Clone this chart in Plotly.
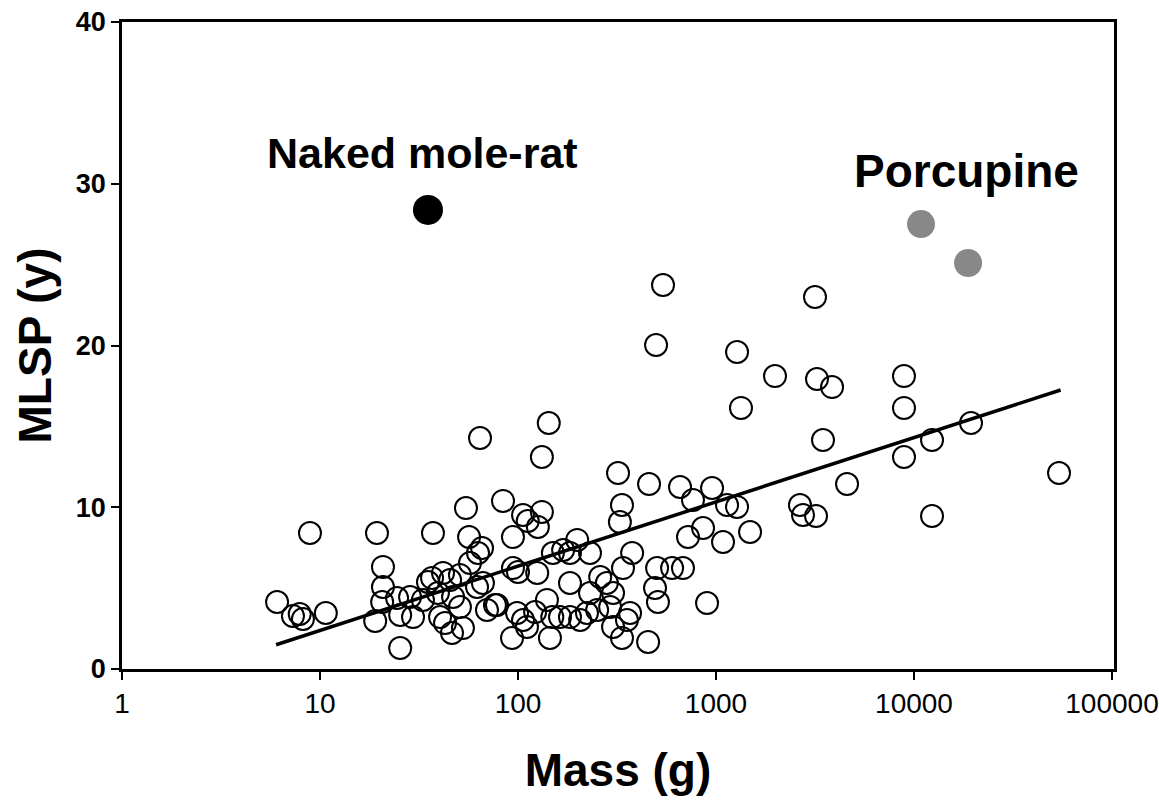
import plotly.graph_objects as go

# Open circles: rodent species (body mass in g, maximum lifespan in years)
mass = [6.07, 7.3, 7.9, 8.2, 10.7, 8.9, 19.4, 20.8, 20.8, 20.6,
        19.0, 24.5, 25.4, 28.5, 29.5, 33.1, 35.1, 36.8, 39.4, 40.4,
        42.8, 45.4, 47.0, 50.9, 52.7, 57.2, 62.8, 62.1, 78.3, 25.4,
        50.9, 41.8, 46.4, 37.2, 56.6, 65.8, 64.3, 54.6, 84.0, 106,
        132, 112, 126, 94.3, 143, 132, 150, 169, 183, 231,
        94.3, 100, 125, 66.5, 183, 260, 281, 76.5, 69.7, 98.9,
        106, 122, 140, 149, 163, 183, 206, 231, 251, 292,
        302, 93.3, 145, 111, 223, 199, 320, 335, 327, 459,
        658, 955, 765, 1137, 722, 860, 1085, 377, 339, 504,
        600, 681, 492, 509, 901, 454, 335, 355, 302, 368,
        3162, 1277, 1986, 3236, 3855, 8900, 1337, 8900, 3470, 19400,
        12330, 8900, 4590, 54000, 12330, 2655, 2750, 3200, 1277, 1486,
        540, 498]
mlsp = [4.14, 3.28, 3.40, 3.09, 3.46, 8.41, 8.41, 6.31, 5.07, 4.14,
        2.97, 4.39, 3.34, 4.45, 3.21, 4.27, 5.38, 5.63, 4.70, 3.21,
        2.84, 5.50, 4.45, 3.83, 2.53, 6.55, 7.17, 5.07, 3.96, 1.30,
        5.81, 5.94, 2.23, 8.41, 8.16, 7.48, 14.28, 9.95, 10.39, 9.52,
        9.71, 9.15, 8.78, 8.16, 15.21, 13.11, 7.17, 7.36, 7.17, 7.17,
        6.24, 6.00, 5.94, 5.32, 5.32, 5.69, 5.32, 3.96, 3.65, 3.46,
        3.03, 3.52, 4.27, 3.21, 3.21, 3.21, 3.03, 4.70, 3.65, 3.83,
        2.60, 1.92, 1.92, 2.60, 3.46, 7.98, 12.12, 10.14, 9.09, 11.44,
        11.25, 11.19, 10.45, 10.14, 8.16, 8.72, 7.85, 7.17, 6.24, 6.24,
        6.24, 6.24, 5.01, 4.14, 4.08, 1.67, 1.92, 3.03, 4.70, 3.46,
        23.0, 19.6, 18.11, 17.93, 17.43, 18.11, 16.14, 16.14, 14.16, 15.21,
        14.16, 13.11, 11.44, 12.12, 9.46, 10.14, 9.52, 9.46, 10.02, 8.47,
        23.74, 20.03]

# Highlighted species
nmr_mass = [35.1]
nmr_mlsp = [28.38]
porc_mass = [10850, 18750]
porc_mlsp = [27.51, 25.10]

# Regression line (end points)
fit_mass = [6.0, 55000]
fit_mlsp = [1.5, 17.25]

x_ticks = [1, 10, 100, 1000, 10000, 100000]
x_tick_labels = ["1", "10", "100", "1000", "10000", "100000"]
y_ticks = [0, 10, 20, 30, 40]

FONT = "Liberation Sans, Arial, sans-serif"

fig = go.Figure()
fig.add_trace(go.Scatter(x=fit_mass, y=fit_mlsp, mode="lines",
                         line=dict(color="black", width=3.5), showlegend=False,
                         hoverinfo="skip"))
fig.add_trace(go.Scatter(x=mass, y=mlsp, mode="markers",
                         marker=dict(symbol="circle-open", size=22, color="black",
                                     line=dict(width=2, color="black")),
                         showlegend=False))
fig.add_trace(go.Scatter(x=nmr_mass, y=nmr_mlsp, mode="markers",
                         marker=dict(symbol="circle", size=30, color="black"),
                         showlegend=False))
fig.add_trace(go.Scatter(x=porc_mass, y=porc_mlsp, mode="markers",
                         marker=dict(symbol="circle", size=28, color="#888888"),
                         showlegend=False))

fig.add_annotation(x=1.52, y=31.9, xref="x", yref="y", text="<b>Naked mole-rat</b>",
                   showarrow=False, font=dict(family=FONT, size=43, color="black"))
fig.add_annotation(x=4.263, y=30.8, xref="x", yref="y", text="<b>Porcupine</b>",
                   showarrow=False, font=dict(family=FONT, size=46, color="black"))

fig.update_xaxes(type="log", range=[0, 5.01], tickvals=x_ticks, ticktext=x_tick_labels,
                 ticks="outside", ticklen=8, tickwidth=2, tickcolor="black",
                 showline=True, linewidth=2.5, linecolor="black", mirror=True,
                 showgrid=False, zeroline=False, automargin=False,
                 tickfont=dict(family=FONT, size=28, color="black"),
                 title=dict(text="<b>Mass (g)</b>", font=dict(family=FONT, size=46, color="black"),
                            standoff=36))
fig.update_yaxes(range=[0, 40], tickvals=y_ticks,
                 ticks="outside", ticklen=8, tickwidth=2, tickcolor="black",
                 showline=True, linewidth=2.5, linecolor="black", mirror=True,
                 showgrid=False, zeroline=False, automargin=False,
                 tickfont=dict(family=FONT, size=27, color="black", weight="bold"),
                 title=dict(text="<b>MLSP (y)</b>", font=dict(family=FONT, size=46, color="black"),
                            standoff=10))

fig.update_layout(width=1159, height=803, margin=dict(l=122, r=45, t=22, b=134),
                  plot_bgcolor="white", paper_bgcolor="white")

fig.write_html("out.html")
